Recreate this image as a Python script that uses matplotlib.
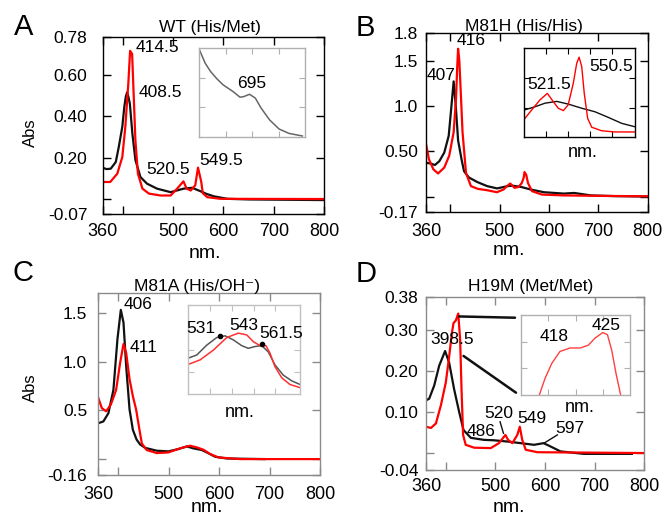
import matplotlib
matplotlib.use("Agg")
import matplotlib.pyplot as plt
from matplotlib.patches import ConnectionPatch

plt.rcParams['font.family'] = ['Liberation Sans', 'DejaVu Sans']

W, H = 662, 513
RED = "#ff0000"
BLACK = "#111111"
ANN = 12.5

# ---- panel A : WT (His/Met) ----
a_black_nm = [360, 368, 376, 386, 392, 399, 403, 406, 408.5, 411, 414, 419, 425, 435, 448,
              468, 495, 521, 538, 554, 566, 581, 608, 650, 800]
a_black = [0.152, 0.146, 0.148, 0.18, 0.253, 0.35, 0.446, 0.495, 0.515, 0.495, 0.46, 0.317,
           0.19, 0.108, 0.076, 0.052, 0.035, 0.052, 0.056, 0.04, 0.027, 0.015, 0.003, 0.0, -0.003]
a_red_nm = [360, 375, 389, 399, 405, 411, 414.5, 418.5, 422, 425, 430, 439, 452, 475, 495,
            508, 520.5, 527, 535, 544, 549.5, 556, 559, 568, 594, 800]
a_red = [0.084, 0.084, 0.124, 0.204, 0.35, 0.56, 0.715, 0.70, 0.478, 0.285, 0.124, 0.052,
         0.028, 0.019, 0.019, 0.052, 0.087, 0.052, 0.043, 0.068, 0.153, 0.084, 0.03, 0.011,
         0.003, 0.002]
a_inset_nm = [600, 611, 621, 633, 645, 664, 677, 684, 695, 706, 717, 733, 751, 770, 795]
a_inset = [0.296, 0.25, 0.222, 0.197, 0.176, 0.153, 0.134, 0.136, 0.144, 0.131, 0.097,
           0.057, 0.026, 0.011, 0.0024]

# ---- panel B : M81H (His/His) ----
b_black_nm = [351, 361, 369, 378, 388, 397, 402, 407, 411, 416, 423, 428, 438, 455, 475,
              495, 516, 526, 543, 563, 590, 630, 651, 685, 733, 800]
b_black = [0.374, 0.363, 0.348, 0.39, 0.485, 0.67, 0.967, 1.27, 1.02, 0.62, 0.41, 0.28,
           0.21, 0.16, 0.115, 0.09, 0.115, 0.12, 0.107, 0.078, 0.048, 0.033, 0.04, 0.013,
           0.005, 0.0]
b_red_nm = [351, 357, 366, 375.5, 388, 398, 407, 411.8, 414, 416, 418.5, 420.5, 425, 432,
            442, 456, 475, 494.5, 508, 516, 521.5, 526, 530.5, 538.7, 545, 548.8, 550.5,
            554, 557.5, 565.6, 586, 630, 699, 800]
b_red = [0.58, 0.41, 0.30, 0.255, 0.32, 0.45, 0.71, 1.08, 1.4, 1.63, 1.5, 1.26, 0.71, 0.26,
         0.115, 0.085, 0.07, 0.048, 0.078, 0.12, 0.144, 0.12, 0.096, 0.107, 0.15, 0.207,
         0.27, 0.24, 0.15, 0.06, 0.022, 0.013, 0.008, 0.003]
b_inset_red_nm = [500, 506.7, 514.3, 521, 526.5, 531, 535.6, 540, 544.7, 547.8, 550, 552.4,
                  554.7, 557.8, 561.5, 570.6, 582.8, 600.4]
b_inset_red = [0.061, 0.092, 0.126, 0.148, 0.12, 0.098, 0.09, 0.109, 0.182, 0.249, 0.27,
               0.238, 0.148, 0.064, 0.034, 0.022, 0.018, 0.018]
b_inset_black_nm = [500, 509.8, 518.9, 529.6, 540, 552.4, 564.5, 576.7, 588.9, 600.4]
b_inset_black = [0.092, 0.103, 0.115, 0.121, 0.112, 0.098, 0.086, 0.067, 0.047, 0.036]

# ---- panel C : M81A (His/OH-) ----
c_black_nm = [360, 370, 380, 390, 398, 404.7, 410, 415.3, 422, 428.6, 436, 443, 453, 476,
              499, 519, 535.7, 548.8, 565.5, 575.4, 592, 615, 690]
c_black = [0.368, 0.386, 0.47, 0.71, 1.23, 1.53, 1.40, 0.955, 0.51, 0.3, 0.2, 0.15, 0.115,
           0.086, 0.079, 0.103, 0.13, 0.11, 0.093, 0.068, 0.024, 0.006, 0.0]
c_red_nm = [360, 367, 375.6, 385, 395.4, 403.4, 410, 415.3, 422, 428.6, 435, 441.7, 446.4,
            456, 476, 499, 522, 542, 555.5, 568.7, 582, 598.4, 641.5, 800]
c_red = [0.627, 0.523, 0.49, 0.56, 0.71, 0.99, 1.18, 1.09, 0.82, 0.645, 0.51, 0.30, 0.16,
         0.093, 0.062, 0.068, 0.11, 0.137, 0.12, 0.096, 0.052, 0.017, 0.0, 0.0]
c_inset_black_nm = [508, 514.2, 521.5, 528.8, 535, 541, 547.2, 552, 557, 561.9, 566.7,
                    571.6, 577.7, 584, 590]
c_inset_black = [0.081, 0.088, 0.110, 0.127, 0.131, 0.122, 0.109, 0.103, 0.107, 0.109,
                 0.095, 0.066, 0.043, 0.030, 0.022]
c_inset_red_nm = [508, 516.6, 526.4, 536.2, 544.7, 550.9, 555.7, 560.6, 565, 568, 571.6,
                  576.6, 582.6, 590]
c_inset_red = [0.067, 0.077, 0.099, 0.127, 0.137, 0.133, 0.118, 0.109, 0.109, 0.092, 0.062,
               0.037, 0.022, 0.015]

# ---- panel D : H19M (Met/Met) ----
d_black_nm = [360, 366.4, 376.5, 386.5, 398.5, 406.6, 416.7, 426.8, 435.6, 450.3, 477, 497,
              524, 551, 577.7, 597, 611, 631, 678, 775]
d_black = [0.128, 0.132, 0.164, 0.212, 0.248, 0.22, 0.155, 0.10, 0.056, 0.037, 0.032, 0.031,
           0.028, 0.024, 0.020, 0.024, 0.016, 0.004, -0.002, -0.002]
d_red_nm = [360, 370, 380, 390, 400, 406.7, 412, 415.5, 420, 425, 428.8, 431.6, 434.8, 440,
            457, 490.5, 507, 520, 525.4, 534, 544, 549, 554, 561, 584.5, 800]
d_red = [0.064, 0.061, 0.072, 0.116, 0.172, 0.235, 0.29, 0.316, 0.322, 0.339, 0.276, 0.155,
         0.044, 0.02, 0.013, 0.012, 0.024, 0.044, 0.032, 0.024, 0.044, 0.064, 0.032, 0.008,
         0.002, 0.0]
d_inset_nm = [408.7, 410.2, 411.9, 414, 416.6, 419.2, 421.3, 423, 425, 426.2, 427.3, 428.4,
              429.6]
d_inset = [0.25, 0.274, 0.295, 0.312, 0.317, 0.317, 0.321, 0.331, 0.339, 0.336, 0.314,
           0.281, 0.25]


def rect(l, t, r, b):
    # pixel box -> figure fraction
    return [l / W, 1 - b / H, (r - l) / W, (b - t) / H]


def ftext(fig, x, y, s, **kw):
    fig.text(x / W, 1 - y / H, s, **kw)


def style(ax, color, ypad, xpad):
    for sp in ax.spines.values():
        sp.set_color(color)
        sp.set_linewidth(1.0)
    ax.tick_params(direction='in', top=True, right=True, length=6, width=1, color=color)
    ax.tick_params(axis='y', labelsize=12.5, pad=ypad)
    ax.tick_params(axis='x', labelsize=13, pad=xpad)


def style_inset(ax, color):
    for sp in ax.spines.values():
        sp.set_color(color)
        sp.set_linewidth(1.0)
    ax.tick_params(direction='in', top=True, right=True, length=4, width=0.8, color=color,
                   labelbottom=False, labelleft=False)


def main():
    fig = plt.figure(figsize=(W / 100, H / 100), dpi=100)

    # ---------- A ----------
    ax = fig.add_axes(rect(102.7, 37.3, 324, 214))
    ax.plot(a_black_nm, a_black, color=BLACK, lw=1.6)
    ax.plot(a_red_nm, a_red, color=RED, lw=1.6)
    ax.set_xlim(360, 800)
    ax.set_ylim(-0.07, 0.78)
    ax.set_xticks([360, 400, 500, 600, 700, 800], ['360', '', '500', '600', '700', '800'])
    ax.set_yticks([-0.07, 0, 0.2, 0.4, 0.6, 0.78], ['-0.07', '', '0.20', '0.40', '0.60', '0.78'])
    style(ax, 'black', 11, 6.3)
    ax.text(468, 0.732, "414.5", fontsize=ANN, ha='center', va='center')
    ax.text(475, 0.514, "408.5", fontsize=ANN, ha='center', va='center')
    ax.text(491, 0.145, "520.5", fontsize=ANN, ha='center', va='center')
    ax.text(596, 0.185, "549.5", fontsize=ANN, ha='center', va='center')

    ins = fig.add_axes(rect(199.3, 48.3, 305, 136.7))
    ins.plot(a_inset_nm, a_inset, color='#666666', lw=1.1)
    ins.set_xlim(600, 800)
    ins.set_ylim(0, 0.3)
    ins.set_xticks([650, 700, 750])
    ins.set_yticks([0.1, 0.2])
    style_inset(ins, '#b0b0b0')
    ins.text(699, 0.181, "695", fontsize=ANN, ha='center', va='center')

    # ---------- B ----------
    ax = fig.add_axes(rect(426, 33.3, 647.7, 212))
    ax.plot(b_black_nm, b_black, color=BLACK, lw=1.6)
    ax.plot(b_red_nm, b_red, color=RED, lw=1.6)
    ax.set_xlim(351, 800)
    ax.set_ylim(-0.17, 1.8)
    ax.set_xticks([351, 400, 500, 600, 700, 800], ['360', '', '500', '600', '700', '800'])
    ax.set_yticks([-0.17, 0, 0.5, 1.0, 1.5, 1.8], ['-0.17', '', '0.50', '1.0', '1.5', '1.8'])
    style(ax, 'black', 5.5, 7.7)
    ax.text(442, 1.724, "416", fontsize=ANN, ha='center', va='center')
    ax.text(381, 1.339, "407", fontsize=ANN, ha='center', va='center')

    ins = fig.add_axes(rect(524.3, 48.3, 635, 137.3))
    ins.plot(b_inset_black_nm, b_inset_black, color=BLACK, lw=1.0)
    ins.plot(b_inset_red_nm, b_inset_red, color=RED, lw=1.0)
    ins.set_xlim(500, 601)
    ins.set_ylim(0, 0.3)
    ins.set_xticks([520, 540, 560, 580])
    ins.set_yticks([0.1, 0.2])
    style_inset(ins, 'black')
    ins.text(522.7, 0.179, "521.5", fontsize=ANN, ha='center', va='center')
    ins.text(578.9, 0.240, "550.5", fontsize=ANN, ha='center', va='center')

    # ---------- C ----------
    ax = fig.add_axes(rect(98.3, 293.3, 320, 474.7))
    ax.plot(c_black_nm, c_black, color=BLACK, lw=1.6)
    ax.plot(c_red_nm, c_red, color=RED, lw=1.6)
    ax.set_xlim(360, 800)
    ax.set_ylim(-0.16, 1.7)
    ax.set_xticks([360, 400, 500, 600, 700, 800], ['360', '', '500', '600', '700', '800'])
    ax.set_yticks([-0.16, 0, 0.5, 1.0, 1.5], ['-0.16', '', '0.5', '1.0', '1.5'])
    style(ax, '#8a8a8a', 8, 8)
    ax.text(439.7, 1.583, "406", fontsize=ANN, ha='center', va='center')
    ax.text(449.6, 1.144, "411", fontsize=ANN, ha='center', va='center')

    ins = fig.add_axes(rect(188.3, 305, 300, 394.3))
    ins.plot(c_inset_black_nm, c_inset_black, color='#555555', lw=1.1)
    ins.plot(c_inset_red_nm, c_inset_red, color='#ff3030', lw=1.1)
    ins.plot([531.3, 561.9], [0.131, 0.112], ls='none', marker='o', ms=3, color='black')
    ins.set_xlim(508, 590)
    ins.set_ylim(0, 0.2)
    ins.set_xticks([524, 540, 556, 572])
    ins.set_yticks([0.05, 0.1, 0.15])
    style_inset(ins, '#c0c0c0')
    ins.text(517.3, 0.148, "531", fontsize=ANN, ha='center', va='center')
    ins.text(548.9, 0.155, "543", fontsize=ANN, ha='center', va='center')
    ins.text(576.1, 0.137, "561.5", fontsize=ANN, ha='center', va='center')

    # ---------- D ----------
    ax = fig.add_axes(rect(426, 296.7, 644.3, 469.5))
    ax.plot(d_black_nm, d_black, color=BLACK, lw=1.6)
    ax.plot(d_red_nm, d_red, color=RED, lw=1.6)
    ax.set_xlim(360, 800)
    ax.set_ylim(-0.04, 0.38)
    ax.set_xticks([360, 400, 500, 600, 700, 800], ['360', '', '500', '600', '700', '800'])
    ax.set_yticks([-0.04, 0, 0.1, 0.2, 0.3, 0.38], ['-0.04', '', '0.10', '0.20', '0.30', '0.38'])
    style(ax, '#8a8a8a', 5.5, 6)
    ax.text(412.1, 0.276, "398.5", fontsize=ANN, ha='center', va='center')
    ax.text(471.4, 0.052, "486", fontsize=ANN, ha='center', va='center')
    ax.text(507.2, 0.096, "520", fontsize=ANN, ha='center', va='center')
    ax.plot([509.3, 516.1], [0.076, 0.048], color=BLACK, lw=1.0)
    ax.text(573.6, 0.083, "549", fontsize=ANN, ha='center', va='center')
    ax.text(650.1, 0.060, "597", fontsize=ANN, ha='center', va='center')
    ax.plot([597.8, 624.7], [0.024, 0.044], color=BLACK, lw=1.0)

    ins = fig.add_axes(rect(521, 315, 630, 395))
    ins.plot(d_inset_nm, d_inset, color='#ff4040', lw=1.0)
    ins.set_xlim(404, 432)
    ins.set_ylim(0.25, 0.364)
    ins.set_xticks([411, 418, 425])
    ins.set_yticks([0.288, 0.326])
    style_inset(ins, '#b0b0b0')
    ins.text(412.5, 0.333, "418", fontsize=ANN, ha='center', va='center')
    ins.text(425.9, 0.349, "425", fontsize=ANN, ha='center', va='center')
    for xy_main, xy_ins in [((426.8, 0.332), (-0.055, 0.966)), ((435.6, 0.236), (-0.046, 0.029))]:
        con = ConnectionPatch(xyA=xy_main, coordsA=ax.transData, xyB=xy_ins,
                              coordsB=ins.transAxes, color=BLACK, lw=1.8)
        fig.add_artist(con)

    # ---------- figure texts ----------
    for x, y, s in [(23.3, 26.7, "A"), (365, 28, "B"), (23, 272.7, "C"), (366, 274, "D")]:
        ftext(fig, x, y, s, fontsize=21, ha='center', va='center')
    for x, y, s in [(210, 27.3, "WT (His/Met)"), (524.3, 26.7, "M81H (His/His)"),
                    (196.7, 286.7, "M81A (His/OH\u207b)"), (531, 286, "H19M (Met/Met)")]:
        ftext(fig, x, y, s, fontsize=12.5, ha='center', va='center')
    for x, y in [(30, 133), (30, 387.7)]:
        ftext(fig, x, y, "Abs", fontsize=12, ha='center', va='center', rotation=90)
    for x, y in [(205, 258), (509, 255), (207, 511.5), (509, 512.5)]:
        ftext(fig, x, y, "nm.", fontsize=14, ha='center', va='baseline')
    for x, y in [(583, 156.7), (240, 416.7), (580, 411.7)]:
        ftext(fig, x, y, "nm.", fontsize=13, ha='center', va='baseline')

    fig.savefig("out.png", dpi=100)


if __name__ == "__main__":
    main()
